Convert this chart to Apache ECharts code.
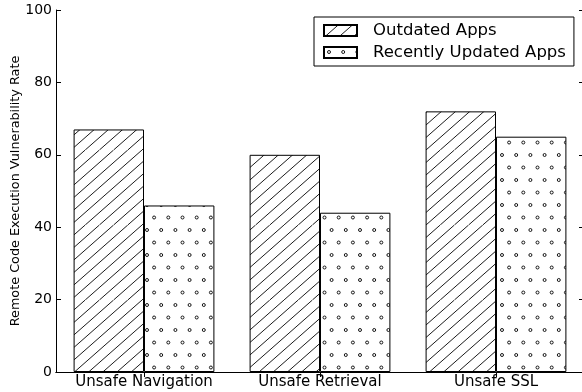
<!DOCTYPE html>
<html>
<head>
<meta charset="utf-8">
<script src="https://cdn.jsdelivr.net/npm/echarts@6/dist/echarts.min.js"></script>
<style>
  html, body { margin: 0; padding: 0; background: #fff; }
  #chart { width: 582px; height: 392px; }
</style>
</head>
<body>
<div id="chart"></div>
<script>
// Chart data
var categories = ['Unsafe Navigation', 'Unsafe Retrieval', 'Unsafe SSL'];
var outdatedApps = [67, 60, 72];
var recentlyUpdatedApps = [46, 44, 65];
var yTicks = [0, 20, 40, 60, 80, 100];

var FONT = 'DejaVu Sans';

// Pattern tiles: 5 columns of 14.2px and 6 rows of 12.5px
var TILE_W = 71, TILE_H = 75, COL = 14.2, ROW = 12.5;

function hatchTile() {
  var c = document.createElement('canvas');
  c.width = TILE_W; c.height = TILE_H;
  var ctx = c.getContext('2d');
  ctx.fillStyle = '#fff';
  ctx.fillRect(0, 0, TILE_W, TILE_H);
  ctx.strokeStyle = '#000';
  ctx.lineWidth = 0.9;
  // "/" lines, slope ROW/COL
  var run = TILE_H * COL / ROW;
  for (var k = -12; k <= 12; k++) {
    var x0 = k * COL;
    ctx.beginPath();
    ctx.moveTo(x0, TILE_H);
    ctx.lineTo(x0 + run, 0);
    ctx.stroke();
  }
  return c;
}

function dotTile() {
  var c = document.createElement('canvas');
  c.width = TILE_W; c.height = TILE_H;
  var ctx = c.getContext('2d');
  ctx.fillStyle = '#fff';
  ctx.fillRect(0, 0, TILE_W, TILE_H);
  ctx.strokeStyle = '#000';
  ctx.lineWidth = 0.9;
  for (var r = 0; r < 6; r++) {
    var y = 5 + r * ROW;
    var off = (r % 2 === 0) ? 5 : 5 + COL / 2;
    for (var k = -1; k <= 6; k++) {
      var x = off + k * COL;
      ctx.beginPath();
      ctx.arc(x, y, 1.5, 0, Math.PI * 2);
      ctx.stroke();
    }
  }
  return c;
}

var hatchPattern = { image: hatchTile(), repeat: 'repeat' };
var dotPattern = { image: dotTile(), repeat: 'repeat' };

var chart = echarts.init(document.getElementById('chart'), null, { renderer: 'canvas' });

var blackLine = { show: true, lineStyle: { color: '#000', width: 1 } };

chart.setOption({
  animation: false,
  backgroundColor: '#fff',
  textStyle: { fontFamily: FONT, color: '#000' },
  // the right spine sits just past the canvas edge
  grid: { left: 56, width: 528, top: 10, bottom: 20, containLabel: false, outerBoundsMode: 'none' },
  legend: {
    orient: 'vertical',
    left: 314,
    top: 17,
    padding: [5, 8, 5, 9],
    itemGap: 5,
    itemWidth: 33,
    itemHeight: 11,
    icon: 'rect',
    backgroundColor: '#fff',
    borderColor: '#000',
    borderWidth: 1,
    borderRadius: 0,
    textStyle: { fontFamily: FONT, fontSize: 16.5, color: '#000', padding: [0, 0, 0, 11] },
    data: ['Outdated Apps', 'Recently Updated Apps']
  },
  xAxis: [
    {
      type: 'category',
      data: categories,
      position: 'bottom',
      axisLine: blackLine,
      axisTick: { show: false },
      axisLabel: { fontFamily: FONT, fontSize: 15, color: '#000', margin: 3, interval: 0, hideOverlap: false },
      splitLine: { show: false }
    },
    {
      type: 'category',
      data: categories,
      position: 'top',
      axisLine: blackLine,
      axisTick: { show: true, inside: true, length: 5, alignWithLabel: true, interval: 0, lineStyle: { color: '#000' } },
      axisLabel: { show: false, interval: 0 },
      splitLine: { show: false }
    }
  ],
  yAxis: [
    {
      type: 'value',
      min: yTicks[0],
      max: yTicks[yTicks.length - 1],
      interval: yTicks[1] - yTicks[0],
      axisLine: blackLine,
      axisTick: { show: true, inside: true, length: 5, lineStyle: { color: '#000' } },
      axisLabel: { fontFamily: FONT, fontSize: 14, color: '#000', margin: 4 },
      splitLine: { show: false },
      name: 'Remote Code Execution Vulnerability Rate',
      nameLocation: 'middle',
      nameGap: 34,
      nameMoveOverlap: false,
      nameTextStyle: { fontFamily: FONT, fontSize: 12.8, color: '#000' }
    },
    {
      type: 'value',
      position: 'right',
      min: yTicks[0],
      max: yTicks[yTicks.length - 1],
      interval: yTicks[1] - yTicks[0],
      axisLine: blackLine,
      axisTick: { show: true, inside: true, length: 5, lineStyle: { color: '#000' } },
      axisLabel: { show: false },
      splitLine: { show: false }
    }
  ],
  series: [
    {
      name: 'Outdated Apps',
      type: 'bar',
      xAxisIndex: 0,
      yAxisIndex: 0,
      data: outdatedApps,
      barGap: '0%',
      barCategoryGap: '20%',
      itemStyle: { color: hatchPattern, borderColor: '#000', borderWidth: 1 }
    },
    {
      name: 'Recently Updated Apps',
      type: 'bar',
      xAxisIndex: 0,
      yAxisIndex: 0,
      data: recentlyUpdatedApps,
      barGap: '0%',
      barCategoryGap: '20%',
      itemStyle: { color: dotPattern, borderColor: '#000', borderWidth: 1 }
    }
  ]
});
</script>
</body>
</html>
